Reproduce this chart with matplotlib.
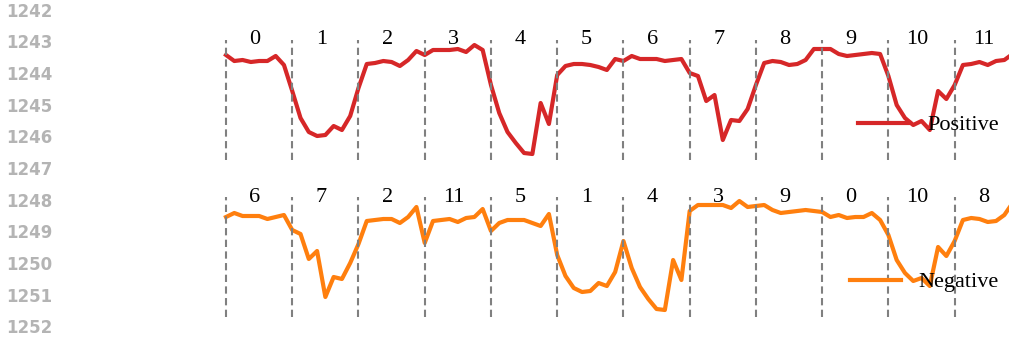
import matplotlib
matplotlib.use("Agg")
import matplotlib.pyplot as plt
import numpy as np

# ordering of the 12 blocks in each row
pos_order = [0, 1, 2, 3, 4, 5, 6, 7, 8, 9, 10, 11]
neg_order = [6, 7, 2, 11, 5, 1, 4, 3, 9, 0, 10, 8]

# 8 samples per block
positive = [
    11.5, 10.9, 11.0, 10.8, 10.9, 10.9, 11.4, 10.5,
    7.9, 5.2, 3.8, 3.4, 3.5, 4.4, 4.0, 5.4,
    8.2, 10.6, 10.7, 10.9, 10.8, 10.4, 11.0, 11.9,
    11.5, 12.0, 12.0, 12.0, 12.1, 11.8, 12.5, 12.0,
    8.5, 5.7, 3.8, 2.7, 1.7, 1.6, 6.7, 4.6,
    9.5, 10.4, 10.6, 10.6, 10.5, 10.3, 10.0, 11.1,
    10.9, 11.4, 11.1, 11.1, 11.1, 10.9, 11.0, 11.1,
    9.7, 9.4, 6.9, 7.5, 3.0, 5.0, 4.9, 6.1,
    8.5, 10.7, 10.9, 10.8, 10.5, 10.6, 11.0, 12.1,
    12.1, 12.1, 11.6, 11.4, 11.5, 11.6, 11.7, 11.6,
    9.4, 6.5, 5.2, 4.5, 4.9, 4.0, 7.9, 7.1,
    8.5, 10.5, 10.6, 10.8, 10.5, 10.9, 11.0, 11.6,
]
negative = [
    11.0, 11.4, 11.1, 11.1, 11.1, 10.8, 11.0, 11.2,
    9.7, 9.3, 6.8, 7.6, 3.0, 5.0, 4.8, 6.4,
    8.3, 10.6, 10.7, 10.8, 10.8, 10.4, 11.0, 12.0,
    8.4, 10.6, 10.7, 10.8, 10.5, 10.9, 11.0, 11.8,
    9.6, 10.4, 10.7, 10.7, 10.7, 10.4, 10.1, 11.3,
    7.2, 5.1, 3.9, 3.5, 3.6, 4.4, 4.1, 5.5,
    8.6, 5.9, 4.0, 2.8, 1.8, 1.7, 6.7, 4.7,
    11.6, 12.2, 12.2, 12.2, 12.2, 11.9, 12.6, 12.0,
    12.1, 12.2, 11.7, 11.4, 11.5, 11.6, 11.7, 11.6,
    11.5, 11.0, 11.2, 10.9, 11.0, 11.0, 11.4, 10.7,
    9.2, 6.7, 5.4, 4.6, 4.9, 4.1, 8.0, 7.1,
    8.6, 10.7, 10.9, 10.8, 10.5, 10.6, 11.2, 12.4,
]
line_numbers = list(range(1242, 1253))

W, H = 1009, 343
fig = plt.figure(figsize=(W / 100, H / 100), dpi=100)

# gutter numbers on the left
for k, n in enumerate(line_numbers):
    fig.text(6 / W, 1 - (11.7 + 31.66 * k) / H, str(n), ha="left", va="center",
             fontsize=12, fontweight="bold", color="#b4b4b4", family="DejaVu Sans")

seg = 8
nseg = 12
x0, x1 = 226, 226 + 8.28 * seg * nseg

rows = [
    (positive, pos_order, "#d62728", "Positive", 40, 160, 125),
    (negative, neg_order, "#ff7f0e", "Negative", 197, 317, 282),
]

for vals, order, color, name, top, bot, leg_y in rows:
    ax = fig.add_axes([x0 / W, 1 - bot / H, (x1 - x0) / W, (bot - top) / H])
    ax.set_xlim(0, seg * nseg)
    ax.set_ylim(1, 13)
    ax.axis("off")
    ax.plot(np.arange(len(vals)), vals, color=color, lw=3.0, label=name,
            clip_on=False)
    for k in range(nseg):
        ax.axvline(k * seg, color="#808080", lw=1.5, dashes=(3.5, 2.1), clip_on=False)
        ax.text(k * seg + 3.5, 1.0, str(order[k]), transform=ax.get_xaxis_transform(),
                ha="center", va="center", fontsize=16, family="Liberation Serif")
    ax.legend(loc="center right", bbox_to_anchor=(999 / W, 1 - leg_y / H),
              bbox_transform=fig.transFigure, frameon=False, borderpad=0,
              borderaxespad=0, handlelength=2.3, handletextpad=0.8,
              prop={"family": "Liberation Serif", "size": 16})

fig.savefig("out.png", dpi=100)
